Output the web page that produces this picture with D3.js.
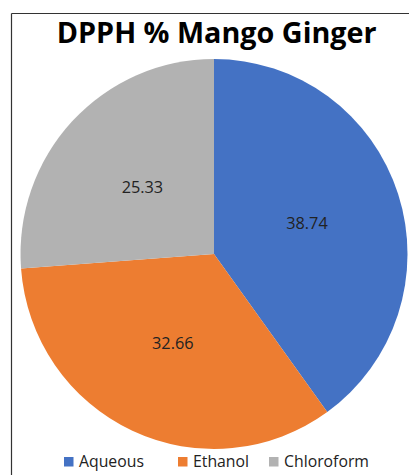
<!DOCTYPE html>
<html><head><meta charset="utf-8">
<script src="https://cdn.jsdelivr.net/npm/d3@7"></script>
<style>html,body{margin:0;padding:0;background:#fff;}svg{display:block;}</style>
</head><body>
<svg id="chart" width="409" height="475"></svg>
<script>
const title = "DPPH % Mango Ginger";
const categories = ["Aqueous", "Ethanol", "Chloroform"];
const values = [38.74, 32.66, 25.33];
const colors = ["#4472C4", "#ED7D31", "#B2B2B2"];

const svg = d3.select("#chart");
const W = 409, H = 475;
const font = "'Open Sans', 'Noto Sans', sans-serif";

function fitText(sel, targetWidth, baseSize) {
  sel.attr("font-size", baseSize);
  const w = sel.node().getComputedTextLength();
  sel.attr("font-size", baseSize * targetWidth / w);
}

// frame
svg.append("line").attr("x1", 11.5).attr("y1", 13.5).attr("x2", W).attr("y2", 13.5)
  .attr("stroke", "#333").attr("stroke-width", 1.2);
svg.append("line").attr("x1", 11.5).attr("y1", 13.5).attr("x2", 11.5).attr("y2", H)
  .attr("stroke", "#333").attr("stroke-width", 1.2);

// title
const t = svg.append("text").attr("x", 216.7).attr("y", 43.3)
  .attr("text-anchor", "middle").attr("font-family", font).attr("font-weight", 700)
  .attr("fill", "#000").text(title);
fitText(t, 320, 24);

// pie
const cx = 214, cy = 254, rx = 193.5, ry = 195;
const pie = d3.pie().sort(null).value(d => d)(values);
const arc = d3.arc().innerRadius(0).outerRadius(rx);
const g = svg.append("g").attr("transform", `translate(${cx},${cy}) scale(1,${ry/rx})`);
g.selectAll("path").data(pie).join("path")
  .attr("d", arc).attr("fill", (d, i) => colors[i]);

const labelArc = d3.arc().innerRadius(rx * 0.505).outerRadius(rx * 0.505);
const lg = svg.append("g").attr("transform", `translate(${cx},${cy})`);
pie.forEach((d, i) => {
  const [x, y] = labelArc.centroid(d);
  lg.append("text").attr("x", x).attr("y", y * ry / rx)
    .attr("dy", "0.35em").attr("text-anchor", "middle")
    .attr("font-family", font).attr("font-size", 16.3).attr("fill", "#222")
    .text(d.data.toFixed(2));
});

// legend
const legendX = [64, 178, 269];
const leg = svg.append("g");
categories.forEach((c, i) => {
  leg.append("rect").attr("x", legendX[i]).attr("y", 457).attr("width", 9.5).attr("height", 9.5)
    .attr("fill", colors[i]);
  leg.append("text").attr("x", legendX[i] + 15).attr("y", 467)
    .attr("font-family", font).attr("font-size", 15.8).attr("fill", "#222").text(c);
});
</script>
</body></html>
